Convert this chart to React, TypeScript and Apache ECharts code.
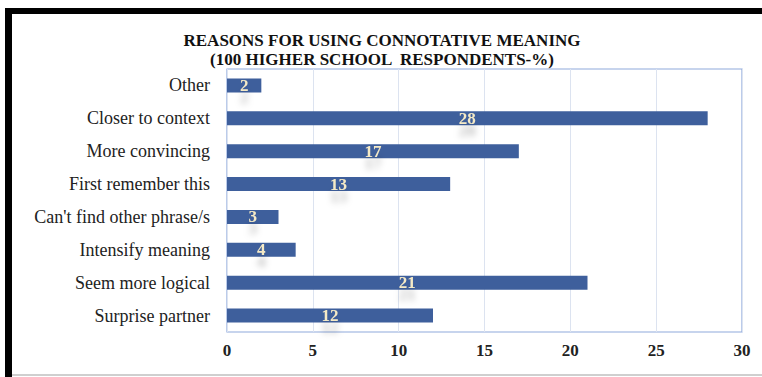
import React, { useEffect, useRef } from "react";
import * as echarts from "echarts";

const categories = [
  "Other",
  "Closer to context",
  "More convincing",
  "First remember this",
  "Can't find other phrase/s",
  "Intensify meaning",
  "Seem more logical",
  "Surprise partner",
];
const values = [2, 28, 17, 13, 3, 4, 21, 12];
const titleLines = [
  "REASONS FOR USING CONNOTATIVE MEANING",
  "(100 HIGHER SCHOOL  RESPONDENTS-%)",
];

const SERIF = "'Liberation Serif', 'Times New Roman', serif";

export default function App() {
  const ref = useRef<HTMLDivElement>(null);
  useEffect(() => {
    if (!ref.current) return;
    const chart = echarts.init(ref.current, null, { renderer: "svg" });
    const titleStyle = {
      fontFamily: SERIF,
      fontWeight: "bold",
      fontSize: 17,
      lineHeight: 17,
      color: "#111",
    };
    chart.setOption({
      animation: false,
      backgroundColor: "#ffffff",
      title: [
        { text: titleLines[0], left: 382, textAlign: "center", top: 32, padding: 0, textStyle: titleStyle },
        { text: titleLines[1], left: 382, textAlign: "center", top: 51, padding: 0, textStyle: titleStyle },
      ],
      graphic: [
        { type: "rect", shape: { x: 5, y: 8, width: 757, height: 6 }, style: { fill: "#000" } },
        { type: "rect", shape: { x: 5, y: 8, width: 7, height: 369 }, style: { fill: "#000" } },
        { type: "rect", shape: { x: 12, y: 374, width: 750, height: 2 }, style: { fill: "#cfcfcf" } },
      ],
      grid: {
        left: 227,
        right: 20,
        top: 69,
        bottom: 45,
        show: true,
        borderColor: "#8FAADC",
        borderWidth: 1.2,
      },
      xAxis: {
        type: "value",
        min: 0,
        max: 30,
        interval: 5,
        axisLine: { show: false },
        axisTick: { show: false },
        splitLine: { lineStyle: { color: "#DCE3F0", width: 1 } },
        axisLabel: {
          fontFamily: SERIF,
          fontWeight: "bold",
          fontSize: 17,
          color: "#222",
          margin: 10,
        },
      },
      yAxis: {
        type: "category",
        inverse: true,
        data: categories,
        axisLine: { show: false },
        axisTick: { show: false },
        axisLabel: {
          fontFamily: SERIF,
          fontSize: 18,
          color: "#222",
          margin: 17,
        },
      },
      series: [
        {
          type: "bar",
          data: values,
          barWidth: 14,
          itemStyle: { color: "#3E5F9C" },
          label: {
            show: true,
            position: "inside",
            fontFamily: SERIF,
            fontWeight: "bold",
            fontSize: 17,
            color: "#F5EAC6",
            textShadowColor: "rgba(0,0,0,0.25)",
            textShadowBlur: 6,
            textShadowOffsetY: 12,
          },
        },
      ],
    });
    return () => chart.dispose();
  }, []);
  return (
    <div
      ref={ref}
      style={{ position: "fixed", left: 0, top: 0, width: 762, height: 377 }}
    />
  );
}
